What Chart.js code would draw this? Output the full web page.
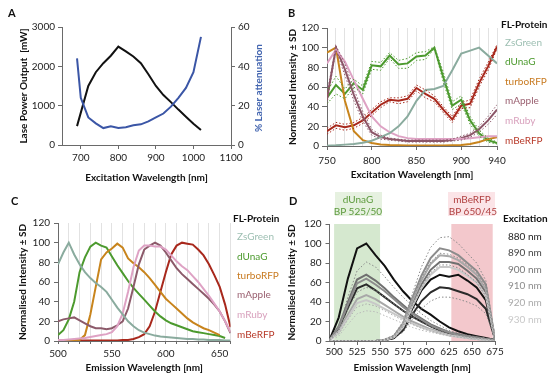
<!DOCTYPE html>
<html><head><meta charset="utf-8">
<script src="https://cdn.jsdelivr.net/npm/chart.js@4/dist/chart.umd.min.js"></script>
<style>
html,body{margin:0;padding:0;background:#fff;}
#wrap{position:relative;width:550px;height:379px;overflow:hidden;font-family:Lato,"Open Sans",sans-serif;}
canvas{position:absolute;left:0;top:0;}
.t{position:absolute;white-space:nowrap;line-height:1;font-size:10px;transform:translateY(-50%);}
.b{font-weight:bold;}
.c{transform:translate(-50%,-50%);}
.p{font-weight:bold;font-size:11px;color:#111;}
</style></head><body>
<div id="wrap">
<canvas id="cA" width="550" height="379" style="width:550px;height:379px"></canvas>
<canvas id="cB" width="550" height="379" style="width:550px;height:379px"></canvas>
<canvas id="cC" width="550" height="379" style="width:550px;height:379px"></canvas>
<canvas id="cD" width="550" height="379" style="width:550px;height:379px"></canvas>

<div class="t p" style="left:8px;top:12px">A</div>
<div class="t p" style="left:288px;top:12px">B</div>
<div class="t p" style="left:11px;top:200px">C</div>
<div class="t p" style="left:289px;top:200px">D</div>

<div class="t b" style="left:258px;top:88px;color:#4466b0;transform:translate(-50%,-50%) rotate(-90deg)">% Laser attenuation</div>

<div class="t b" style="left:501px;top:24px;color:#111">FL-Protein</div>
<div class="t" style="left:505px;top:42px;color:#9dbfb2">ZsGreen</div>
<div class="t" style="left:505px;top:61px;color:#4c9a2e">dUnaG</div>
<div class="t" style="left:505px;top:81px;color:#c87a20">turboRFP</div>
<div class="t" style="left:505px;top:100px;color:#9a6070">mApple</div>
<div class="t" style="left:505px;top:120px;color:#d8a0bc">mRuby</div>
<div class="t" style="left:505px;top:140px;color:#b83a2a">mBeRFP</div>

<div class="t b" style="left:233px;top:218px;color:#111">FL-Protein</div>
<div class="t" style="left:237px;top:236px;color:#9dbfb2">ZsGreen</div>
<div class="t" style="left:237px;top:256px;color:#4c9a2e">dUnaG</div>
<div class="t" style="left:237px;top:275px;color:#c87a20">turboRFP</div>
<div class="t" style="left:237px;top:294px;color:#9a6070">mApple</div>
<div class="t" style="left:237px;top:314px;color:#d8a0bc">mRuby</div>
<div class="t" style="left:237px;top:334px;color:#b83a2a">mBeRFP</div>

<div style="position:absolute;left:335px;top:192px;width:47px;height:24px;background:#e6f1e0"></div>
<div style="position:absolute;left:448px;top:192px;width:47px;height:24px;background:#fbe4e7"></div>
<div class="t c" style="left:358px;top:199px;color:#5c9a3c">dUnaG</div>
<div class="t c" style="left:358px;top:211px;color:#5c9a3c">BP 525/50</div>
<div class="t c" style="left:472px;top:199px;color:#b04040">mBeRFP</div>
<div class="t c" style="left:473px;top:211px;color:#b04040">BP 650/45</div>

<div class="t b" style="left:503px;top:218px;color:#111">Excitation</div>
<div class="t" style="left:508px;top:236px;color:#222">880 nm</div>
<div class="t" style="left:508px;top:252px;color:#444">890 nm</div>
<div class="t" style="left:508px;top:269px;color:#777">900 nm</div>
<div class="t" style="left:508px;top:285px;color:#8c8c8c">910 nm</div>
<div class="t" style="left:508px;top:302px;color:#aaa">920 nm</div>
<div class="t" style="left:508px;top:319px;color:#c8c8c8">930 nm</div>
</div>
<script>
// ---------- Panel A data ----------
const aPowerNm = [690,720,740,760,780,800,820,840,860,880,900,920,940,960,980,1000,1020];
const aPower   = [480,1500,1850,2080,2270,2500,2380,2250,2080,1800,1500,1270,1090,900,720,540,380];
const aAttenNm = [690,700,720,740,760,780,800,820,840,860,880,900,920,940,960,980,1000,1020];
const aAtten   = [44,24,14,11,8.6,9.5,8.6,9,10,10.5,12,14,16,19.5,24,29,37,55];
const aXTicks  = [700,800,900,1000,1100];

// ---------- Panel B data ----------
const bNm       = [750,760,770,780,790,800,810,820,830,840,850,860,870,880,890,900,910,920,930,940];
const bXLabels  = [750,800,850,900,940];
const bZsGreen  = [0.3,0.7,1.4,2,3.4,5.4,9,13,20,30,46,57,58,61,77,94,97,100,92,84];
const bDUnaG    = [49,62,53,64,57,82,81,92,83,84,91,92,100,70,41,47,26,13,6,3];
const bDUnaGSD  = [6,9,5,4,4,4,4,3,4,5,4,4,1,5,4,4,4,3,2,1];
const bTurboRFP = [95,100,46,15,6,3,1.5,1,0.8,0.5,0.5,0.5,0.5,0.5,0.8,1,2,4,7,9];
const bMApple   = [48,100,78,52,30,14,9,7,6,5,5,5,5,5,6,8,11,17,26,37];
const bMAppleSD = [5,2,6,6,5,3,2,1,1,1,1,1,1,1,1,2,2,3,4,5];
const bMRuby    = [84,98,86,67,48,30,20,14,10,8,7,7,7,7,7,7,8,9,10,10];
const bMBeRFP   = [15,21,19,21,26,34,42,47,46,48,59,53,48,37,27,41,43,64,81,101];
const bMBeRFPSD = [3,3,3,3,3,3,3,2,3,3,3,4,3,3,3,3,4,4,4,2];

// ---------- Panel C data ----------
const cNm       = [500,505,510,515,520,525,530,535,540,545,550,555,560,565,570,575,580,585,590,595,600,605,610,615,620,625,630,635,640,645,650,655,660];
const cXTicks   = [500,510,520,530,540,550,560,570,580,590,600,610,620,630,640,650,660];
const cXLabels  = [500,550,600,650];
const cZsGreen  = [78,90,100,88,78,70,64,59,55,50,42,34,27,20,15,11,8.5,7,5.5,4.5,4,3.5,3,2.5,2,2,1.5,1.5,1,1,1,0.5,0.5];
const cDUnaG    = [6,11,22,40,70,85,96,100,97,95,86,77,69,61,54,48,42,36,30,25,21,18,16,14,12,10,9,8,7,6,5,3,null];
const cTurboRFP = [0.5,0.5,0.5,0.5,1,6,27,55,83,90,94,99,95,84,79,75,70,64,57,50,43,38,33,28,23,19,16,13,11,8.5,6,null,null];
const cMApple   = [20,22,23,24,21,18,15,13,13,12,13,16,20,33,55,78,93,97,100,97,90,82,74,68,63,58,53,48,43,37,30,20,8];
const cMRuby    = [1,1,1.5,2,2.5,3,4,5,6,7,9,15,28,50,75,92,97,97,96,96,93,87,81,76,72,66,60,53,46,38,30,20,9];
const cMBeRFP   = [0.5,0.5,0.5,0.5,0.5,0.5,0.5,0.5,0.5,0.5,0.5,0.5,1,1,2,4,7,15,30,50,70,88,97,100,99,98,93,87,78,67,55,37,14];

// ---------- Panel D data ----------
const dNm     = [495,505,515,525,535,545,555,565,575,585,595,605,615,625,635,645,655,665,675];
const dXTicks = [500,525,550,575,600,625,650,675];
const dGreenBand = [500,550];
const dRedBand   = [627.5,672.5];
const d880G = [1,24,64,95,100,88,77,63,51,41,33,27,20,14,10,7,5,3,1];
const d890G = [1,13,34,54,58,52,45,38,31,25,20,15,11,8,6,4,3,2,1];
const d900G = [1,15,40,63,68,62,54,45,37,29,23,17,13,9,7,5,4,2,1];
const d910G = [1,14,37,59,64,58,51,43,35,28,22,16,12,9,6,5,3,2,1];
const d920G = [1,10,27,43,47,43,37,31,25,20,16,12,9,6,5,3,2,1,0];
const d930G = [1,9,24,39,42,38,33,28,23,18,14,11,8,6,4,3,2,1,0];
const d880R = [0,0,0,0,0,0,1,3,13,33,52,63,68,66,68,62,55,42,2];
const d890R = [0,0,0,0,0,0,1,3,11,27,41,50,55,54,51,48,43,33,2];
const d900R = [0,0,0,0,0,0,1,4,15,38,58,73,81,81,79,72,64,50,2];
const d910R = [0,0,0,0,0,0,1,5,18,44,67,85,95,93,88,80,72,58,2];
const d920R = [0,0,0,0,0,0,1,4,17,41,62,79,88,87,83,76,68,53,2];
const d930R = [0,0,0,0,0,0,1,4,14,35,54,68,76,76,73,67,60,46,2];
const dSdG1 = [1,14,45,72,81,76,66,55,45,36,28,21,16,11,8,6,4,3,1];
const dSdG2 = [1,10,32,50,55,52,45,38,31,25,19,15,11,8,6,4,3,2,1];
const dSdG3 = [1,7,22,35,38,36,31,26,21,17,13,10,8,6,4,3,2,1,0];
const dSdG4 = [0,5,17,28,31,30,26,22,18,14,11,9,7,5,4,3,2,1,0];
const dSdR1 = [0,0,0,0,0,0,2,6,20,48,76,96,106,107,100,90,80,62,2];
const dSdR2 = [0,0,0,0,0,0,1,5,18,42,64,81,90,89,85,78,70,55,2];
const dSdR3 = [0,0,0,0,0,0,1,4,15,36,55,70,78,78,75,68,60,46,2];
const dSdR4 = [0,0,0,0,0,0,1,3,9,22,33,41,45,45,43,40,36,28,2];

// ---------- helpers ----------
Chart.defaults.font.family = "Lato, 'Open Sans', sans-serif";
Chart.defaults.font.size = 10;
Chart.defaults.color = '#222';
const AX = '#6a6a6a';

function ds(xs, ys, color, width, dash){
  return {data: xs.map((x,i)=>({x:x, y:ys[i]})), borderColor: color, backgroundColor: color,
    borderWidth: width, borderDash: dash||[], pointRadius:0, tension:0, fill:false, spanGaps:false};
}
function plus(a,b){ return a.map((v,i)=>v+b[i]); }
function minus(a,b){ return a.map((v,i)=>Math.max(0,v-b[i])); }
function fixTicks(list){ return function(s){ s.ticks = list.map(v=>({value:v})); }; }
function base(pad){
  return {responsive:false, animation:false, events:[], maintainAspectRatio:false,
    plugins:{legend:{display:false}, tooltip:{enabled:false}}, layout:{padding:pad}};
}
function yAxis(o){
  return {type:'linear', position:o.position||'left', min:o.min, max:o.max,
    ticks:{stepSize:o.step, padding:o.tickPad, color:'#222', callback: v => String(v)},
    grid:{display:true, drawOnChartArea:false, drawTicks:true, tickLength:o.tickLen, tickColor:AX, color:AX},
    border:{display:true, color:AX, width:1},
    title: o.title ? {display:true, text:o.title, font:{size:10, weight:'bold'}, color:'#111', padding:{top:o.titlePad, bottom:0}} : {display:false},
    afterFit: s=>{ s.width = o.width; }
  };
}
function xAxis(o){
  return {type:'linear', min:o.min, max:o.max,
    afterBuildTicks: fixTicks(o.ticks),
    ticks:{autoSkip:false, maxRotation:0, minRotation:0, padding:o.tickPad,
      callback: v => o.labels.includes(v) ? String(v) : ''},
    grid:{display:true, drawOnChartArea: !!o.gridColor, color: o.gridColor||AX, tickLength:o.tickLen,
      tickColor: ctx => (o.tickAll || (ctx.tick && o.labels.includes(ctx.tick.value))) ? AX : 'rgba(0,0,0,0)'},
    border:{display:true, color:AX, width:1},
    title:{display:true, text:o.title, font:{size:10, weight:'bold'}, color:'#111', padding:{top:0, bottom:o.titlePad}},
    afterFit: s=>{ s.height = o.height; }
  };
}

// ---------- Panel A ----------
new Chart(document.getElementById('cA'), {
  type:'line',
  data:{datasets:[
    Object.assign(ds(aAttenNm, aAtten, '#3b56a6', 2), {yAxisID:'y1'}),
    Object.assign(ds(aPowerNm, aPower, '#111111', 2), {yAxisID:'y'})
  ]},
  options: Object.assign(base({left:0, top:27, right:284, bottom:194}), {
    scales:{
      x: xAxis({min:650, max:1100, ticks:aXTicks, labels:aXTicks, height:40, tickLen:4, tickPad:3,
        title:'Excitation Wavelength [nm]', titlePad:1}),
      y: yAxis({min:0, max:3000, step:1000, width:62, tickLen:4, tickPad:3, title:'Lase Power Output  [mW]', titlePad:18}),
      y1: yAxis({position:'right', min:0, max:60, step:20, width:35, tickLen:4, tickPad:3})
    }
  })
});

// ---------- Panel B ----------
const bSets = [
  ds(bNm, plus(bDUnaG,bDUnaGSD), '#4c9a2e', 1, [1.5,2]),
  ds(bNm, minus(bDUnaG,bDUnaGSD), '#4c9a2e', 1, [1.5,2]),
  ds(bNm, plus(bMApple,bMAppleSD), '#8c5668', 1, [1.5,2]),
  ds(bNm, minus(bMApple,bMAppleSD), '#8c5668', 1, [1.5,2]),
  ds(bNm, plus(bMBeRFP,bMBeRFPSD), '#a8281c', 1, [1.5,2]),
  ds(bNm, minus(bMBeRFP,bMBeRFPSD), '#a8281c', 1, [1.5,2]),
  ds(bNm, bZsGreen, '#8aab9e', 2),
  ds(bNm, bMRuby, '#dea2c4', 2),
  ds(bNm, bMApple, '#8c5668', 2),
  ds(bNm, bTurboRFP, '#c8841c', 2),
  ds(bNm, bDUnaG, '#4c9a2e', 2),
  ds(bNm, bMBeRFP, '#a8281c', 2)
];
new Chart(document.getElementById('cB'), {
  type:'line',
  data:{datasets:bSets},
  options: Object.assign(base({left:275, top:28, right:53, bottom:193}), {
    scales:{
      x: xAxis({min:750, max:940, ticks:bNm, labels:bXLabels, height:40, tickLen:4, tickPad:5,
        gridColor:'#e2e2e2', title:'Excitation Wavelength [nm]', titlePad:5}),
      y: yAxis({min:0, max:120, step:20, width:52, tickLen:5, tickPad:3, title:'Normalised Intensity \u00B1 SD', titlePad:12})
    }
  })
});

// ---------- Panel C ----------
new Chart(document.getElementById('cC'), {
  type:'line',
  data:{datasets:[
    ds(cNm, cZsGreen, '#8aab9e', 2),
    ds(cNm, cMRuby, '#dea2c4', 2),
    ds(cNm, cMApple, '#8c5a6a', 2),
    ds(cNm, cTurboRFP, '#c8841c', 2),
    ds(cNm, cDUnaG, '#4c9a2e', 2),
    ds(cNm, cMBeRFP, '#a8281c', 2)
  ]},
  options: Object.assign(base({left:0, top:223, right:319.5, bottom:0}), {
    scales:{
      x: xAxis({min:500, max:660, ticks:cXTicks, labels:cXLabels, tickAll:true, height:38, tickLen:3, tickPad:4,
        gridColor:'#e2e2e2', title:'Emission Wavelength [nm]', titlePad:5}),
      y: yAxis({min:0, max:120, step:20, width:58, tickLen:4, tickPad:4, title:'Normalised Intensity \u00B1 SD', titlePad:17})
    }
  })
});

// ---------- Panel D ----------
const bandPlugin = {
  id:'bands',
  beforeDatasetsDraw(chart){
    const {ctx, chartArea:{top,bottom}, scales:{x}} = chart;
    [[dGreenBand,'#d5e8cf'],[dRedBand,'#f3c8cc']].forEach(([b,c])=>{
      const l = x.getPixelForValue(b[0]), r = x.getPixelForValue(b[1]);
      ctx.save(); ctx.fillStyle = c; ctx.fillRect(l, top, r-l, bottom-top); ctx.restore();
    });
  }
};
const dot = '#8a8a8a';
new Chart(document.getElementById('cD'), {
  type:'line',
  data:{datasets:[
    ds(dNm, dSdG1, dot, 1, [1.5,2]), ds(dNm, dSdG2, dot, 1, [1.5,2]),
    ds(dNm, dSdG3, '#aaa', 1, [1.5,2]), ds(dNm, dSdG4, '#bbb', 1, [1.5,2]),
    ds(dNm, dSdR1, dot, 1, [1.5,2]), ds(dNm, dSdR2, dot, 1, [1.5,2]),
    ds(dNm, dSdR3, dot, 1, [1.5,2]), ds(dNm, dSdR4, dot, 1, [1.5,2]),
    ds(dNm, d930G, '#c8c8c8', 2), ds(dNm, d930R, '#c8c8c8', 2),
    ds(dNm, d920G, '#a8a8a8', 2), ds(dNm, d920R, '#a8a8a8', 2),
    ds(dNm, d910G, '#8c8c8c', 2), ds(dNm, d910R, '#8c8c8c', 2),
    ds(dNm, d900G, '#707070', 2), ds(dNm, d900R, '#707070', 2),
    ds(dNm, d890G, '#2a2a2a', 2), ds(dNm, d890R, '#2a2a2a', 2),
    ds(dNm, d880G, '#111111', 2), ds(dNm, d880R, '#111111', 2)
  ]},
  options: Object.assign(base({left:275, top:224, right:55, bottom:0}), {
    scales:{
      x: xAxis({min:495, max:675, ticks:dXTicks, labels:dXTicks, height:38, tickLen:4, tickPad:1,
        title:'Emission Wavelength [nm]', titlePad:5}),
      y: yAxis({min:0, max:120, step:20, width:54.5, tickLen:4, tickPad:4, title:'Normalised Intensity \u00B1 SD', titlePad:11})
    }
  }),
  plugins:[bandPlugin]
});
</script>
</body></html>
